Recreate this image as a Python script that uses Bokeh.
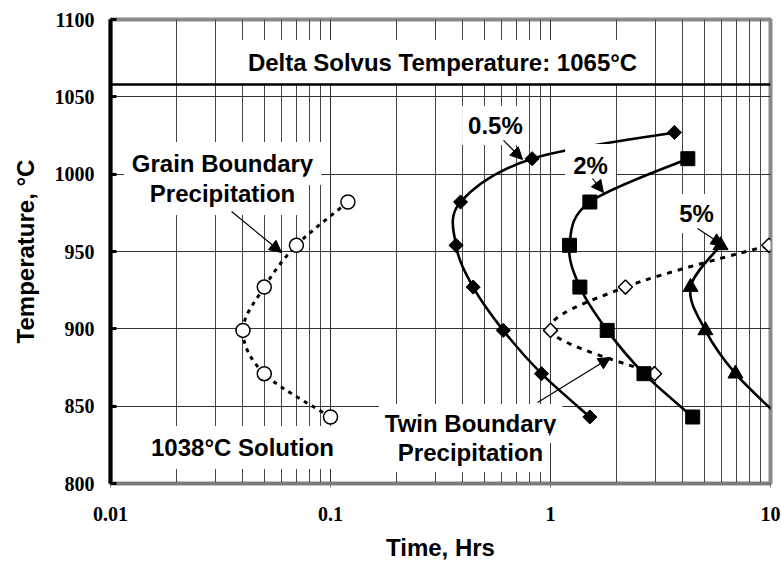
import numpy as np
from bokeh.plotting import figure
from bokeh.models import Range1d, FixedTicker, CustomJSTickFormatter, Label, Arrow, NormalHead, Span
from bokeh.embed import file_html
from bokeh.resources import INLINE

# ---------------- data ----------------
gb_time = [0.10, 0.05, 0.04, 0.05, 0.07, 0.12]          # grain boundary precipitation
gb_temp = [843, 871, 899, 927, 954, 982]
p05_time = [1.51, 0.91, 0.61, 0.445, 0.372, 0.39, 0.825, 3.66]   # 0.5 %
p05_temp = [843, 871, 899, 927, 954, 982, 1010, 1027]
p2_time = [4.43, 2.66, 1.81, 1.36, 1.22, 1.51, 4.21]   # 2 %
p2_temp = [843, 871, 899, 927, 954, 982, 1010]
p5_time = [11.0, 6.93, 5.06, 4.33, 5.93]                # 5 %
p5_temp = [843, 871, 899, 927, 954]
tb_time = [2.97, 1.0, 2.19, 9.83]                       # twin boundary precipitation
tb_temp = [871, 899, 927, 954]
delta_solvus = 1058

x_ticks = [0.01, 0.1, 1, 10]
x_minor = [0.02, 0.03, 0.04, 0.05, 0.06, 0.07, 0.08, 0.09,
           0.2, 0.3, 0.4, 0.5, 0.6, 0.7, 0.8, 0.9,
           2, 3, 4, 5, 6, 7, 8, 9]
y_ticks = [800, 850, 900, 950, 1000, 1050, 1100]

SANS = "Liberation Sans"
SERIF = "Liberation Serif"


def smooth(xs, ys, t=1.0 / 6.0):
    """Bezier segments (Excel-like smoothing) computed in log-x / linear-y space."""
    lx = np.log10(np.asarray(xs, float))
    y = np.asarray(ys, float)
    n = len(lx)
    out = {k: [] for k in ("x0", "y0", "x1", "y1", "cx0", "cy0", "cx1", "cy1")}
    for i in range(n - 1):
        pm = max(i - 1, 0)
        pp = min(i + 2, n - 1)
        out["x0"].append(10 ** lx[i]); out["y0"].append(y[i])
        out["x1"].append(10 ** lx[i + 1]); out["y1"].append(y[i + 1])
        out["cx0"].append(10 ** (lx[i] + (lx[i + 1] - lx[pm]) * t))
        out["cy0"].append(y[i] + (y[i + 1] - y[pm]) * t)
        out["cx1"].append(10 ** (lx[i + 1] - (lx[pp] - lx[i]) * t))
        out["cy1"].append(y[i + 1] - (y[pp] - y[i]) * t)
    return out


p = figure(width=781, height=564, x_axis_type="log",
           x_range=Range1d(0.01, 10), y_range=Range1d(800, 1100),
           output_backend="svg", toolbar_location=None,
           min_border_left=110, min_border_right=11,
           min_border_top=19, min_border_bottom=81)
p.background_fill_color = "white"
p.border_fill_color = "white"
p.outline_line_color = "#8a8a8a"
p.outline_line_width = 4

# axes
p.xaxis.ticker = FixedTicker(ticks=x_ticks, minor_ticks=x_minor)
p.xaxis.formatter = CustomJSTickFormatter(code="return tick.toString();")
p.yaxis.ticker = FixedTicker(ticks=y_ticks)
for ax in (p.xaxis[0], p.yaxis[0]):
    ax.major_label_text_font = SERIF
    ax.major_label_text_font_style = "bold"
    ax.major_label_text_font_size = "20px"
    ax.major_label_text_color = "black"
    ax.axis_label_text_font = SANS
    ax.axis_label_text_font_style = "bold"
    ax.axis_label_text_font_size = "24px"
    ax.axis_label_text_color = "black"
    ax.minor_tick_line_color = None
p.xaxis.axis_label = "Time, Hrs"
p.yaxis.axis_label = "Temperature, °C"
p.xaxis.axis_line_color = "#7a7a7a"
p.xaxis.axis_line_width = 3
p.xaxis.major_tick_line_color = "#7a7a7a"
p.xaxis.major_tick_out = 4
p.xaxis.major_tick_in = 0
p.xaxis.major_label_standoff = 19
p.xaxis.axis_label_standoff = 10
p.yaxis.axis_line_color = "black"
p.yaxis.axis_line_width = 4
p.yaxis.major_tick_line_color = "black"
p.yaxis.major_tick_line_width = 3
p.yaxis.major_tick_in = 6
p.yaxis.major_tick_out = 0
p.yaxis.major_label_standoff = 16
p.yaxis.axis_label_standoff = 13

# grids
p.xgrid.ticker = p.xaxis.ticker
p.xgrid.grid_line_color = "#333333"
p.xgrid.minor_grid_line_color = "#444444"
p.xgrid.grid_line_width = 1
p.xgrid.minor_grid_line_width = 1
p.ygrid.ticker = p.yaxis.ticker
p.ygrid.grid_line_color = "#333333"
p.ygrid.grid_line_width = 1

# curves
p.bezier(line_color="black", line_width=3, line_dash="4 5", **smooth(gb_time, gb_temp))
p.bezier(line_color="black", line_width=3, line_dash="5 6", **smooth(tb_time, tb_temp))
p.bezier(line_color="black", line_width=2.6, **smooth(p05_time, p05_temp))
p.bezier(line_color="black", line_width=2.6, **smooth(p2_time, p2_temp))
p.bezier(line_color="black", line_width=2.6, **smooth(p5_time, p5_temp))

# markers
p.scatter(gb_time, gb_temp, marker="circle", size=14, fill_color="white",
          line_color="black", line_width=1.5)
p.scatter(tb_time, tb_temp, marker="square", angle=np.pi / 4, size=10,
          fill_color="white", line_color="black", line_width=1.5)
p.scatter(p05_time, p05_temp, marker="square", angle=np.pi / 4, size=10,
          fill_color="black", line_color="black")
p.scatter(p2_time, p2_temp, marker="square", size=14, fill_color="black", line_color="black")
p.scatter(p5_time, p5_temp, marker="triangle", size=15, fill_color="black", line_color="black")


def label(x, y, text, pad=6):
    p.add_layout(Label(x=x, y=y, text=text, text_font=SANS, text_font_style="bold",
                       text_font_size="24px", text_color="black",
                       text_align="center", text_baseline="middle",
                       background_fill_color="white", padding=pad))


label(0.323, 1072.2, "Delta Solvus Temperature: 1065°C", pad=9)
label(0.562, 1031.5, "0.5%")
label(1.52, 1005.6, "2%", pad=8)
label(4.61, 974.6, "5%")
label(0.0323, 1006.9, "Grain Boundary", pad=8)
label(0.0323, 987.5, "Precipitation", pad=8)
label(0.0398, 823.3, "1038°C Solution", pad=8)
label(0.433, 838.8, "Twin Boundary", pad=6)
label(0.433, 820.0, "Precipitation", pad=6)

# delta solvus line (drawn over the label box, as in the reference)
p.add_layout(Span(location=delta_solvus, dimension="width", line_color="black", line_width=2.5))


def arrow(xs, ys, xe, ye):
    p.add_layout(Arrow(end=NormalHead(size=12, fill_color="black", line_color="black"),
                       x_start=xs, y_start=ys, x_end=xe, y_end=ye,
                       line_color="black", line_width=1.2))


arrow(0.6115, 1021.8, 0.746, 1009.5)
arrow(1.552, 997.2, 1.741, 988.1)
arrow(4.66, 964.9, 6.11, 953.9)
arrow(0.0355, 975.9, 0.0599, 949.3)
arrow(0.873, 852.4, 1.874, 881.5)

open("out.html", "w").write(file_html(p, INLINE))
